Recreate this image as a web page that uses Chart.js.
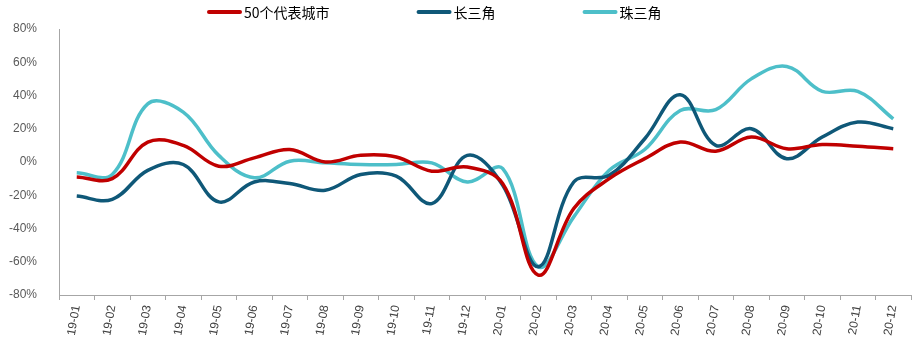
<!DOCTYPE html>
<html lang="zh-CN">
<head>
    <meta charset="UTF-8">
    <title>房价同比走势</title>
    <script src="https://cdn.jsdelivr.net/npm/chart.js"></script>
    <style>
        html, body { margin: 0; padding: 0; background: #fff; }
        #wrap { width: 919px; height: 344px; }
    </style>
</head>
<body>
    <div id="wrap"><canvas id="trendChart"></canvas></div>

    <script>
        // Months shown on the x axis
        const months = ['19-01', '19-02', '19-03', '19-04', '19-05', '19-06', '19-07', '19-08', '19-09', '19-10', '19-11', '19-12',
                        '20-01', '20-02', '20-03', '20-04', '20-05', '20-06', '20-07', '20-08', '20-09', '20-10', '20-11', '20-12'];

        // Year-on-year change, percent
        const cities50 = [-9, -10, 12, 10, -2.5, 2.5, 7.5, 0, 4, 3, -5.5, -3, -13, -68, -28, -10, 2, 12, 6.5, 15, 8, 10.5, 9.5, 8];
        const yangtze = [-20.5, -22.5, -5, -1.5, -24, -12, -13, -17, -7.5, -8.5, -25, 4, -14, -63, -12, -8, 14, 40.5, 10, 20, 2, 15, 24, 20];
        const pearl = [-6.5, -7.5, 35, 30, 4, -9.5, 0.5, -0.5, -1.5, -1.5, -0.5, -12, -4, -63, -33, -5, 7.5, 31, 31.5, 50, 57.5, 42.5, 42.5, 26];

        const seriesNames = ['50个代表城市', '长三角', '珠三角'];
        const yTicks = { min: -80, max: 80, step: 20 };

        const axisGrey = '#A6A6A6';
        const labelGrey = '#595959';

        // Legend drawn as a row of short thick lines followed by names
        const lineLegend = {
            id: 'lineLegend',
            afterDraw(chart) {
                const ctx = chart.ctx;
                let x = 207;
                const y = 12;
                ctx.save();
                ctx.font = '14px "Noto Sans CJK SC"';
                ctx.textBaseline = 'middle';
                chart.data.datasets.forEach(ds => {
                    ctx.strokeStyle = ds.borderColor;
                    ctx.lineWidth = 4;
                    ctx.lineCap = 'round';
                    ctx.beginPath();
                    ctx.moveTo(x + 2, y);
                    ctx.lineTo(x + 33, y);
                    ctx.stroke();
                    ctx.fillStyle = '#000';
                    ctx.fillText(ds.label, x + 37, y + 1);
                    x += 37 + ctx.measureText(ds.label).width + 87;
                });
                ctx.restore();
            }
        };

        const ctx = document.getElementById('trendChart').getContext('2d');
        new Chart(ctx, {
            type: 'line',
            data: {
                labels: months,
                datasets: [
                    { label: seriesNames[0], data: cities50, borderColor: '#C00000' },
                    { label: seriesNames[1], data: yangtze, borderColor: '#0F5878' },
                    { label: seriesNames[2], data: pearl, borderColor: '#4DBFC9' }
                ]
            },
            options: {
                responsive: true,
                maintainAspectRatio: false,
                animation: false,
                layout: { padding: { top: 29, right: 8, left: 0, bottom: 0 } },
                elements: {
                    line: { borderWidth: 3.5, tension: 0.38, fill: false },
                    point: { radius: 0 }
                },
                plugins: {
                    legend: { display: false },
                    tooltip: { enabled: false }
                },
                scales: {
                    x: {
                        offset: true,
                        grid: {
                            offset: true,
                            drawOnChartArea: false,
                            color: axisGrey,
                            tickLength: 5
                        },
                        border: { color: axisGrey, width: 1 },
                        ticks: {
                            autoSkip: false,
                            minRotation: 80,
                            maxRotation: 80,
                            padding: 4,
                            color: '#404040',
                            font: { family: 'Liberation Sans', size: 12 }
                        },
                        afterFit(scale) { scale.height = 49; }
                    },
                    y: {
                        min: yTicks.min,
                        max: yTicks.max,
                        grid: { display: false },
                        border: { color: axisGrey, width: 1 },
                        ticks: {
                            stepSize: yTicks.step,
                            padding: 14,
                            color: labelGrey,
                            font: { family: 'Liberation Sans', size: 12 },
                            callback: v => v + '%'
                        },
                        afterFit(scale) { scale.width = 59; }
                    }
                }
            },
            plugins: [lineLegend]
        });
    </script>
</body>
</html>
